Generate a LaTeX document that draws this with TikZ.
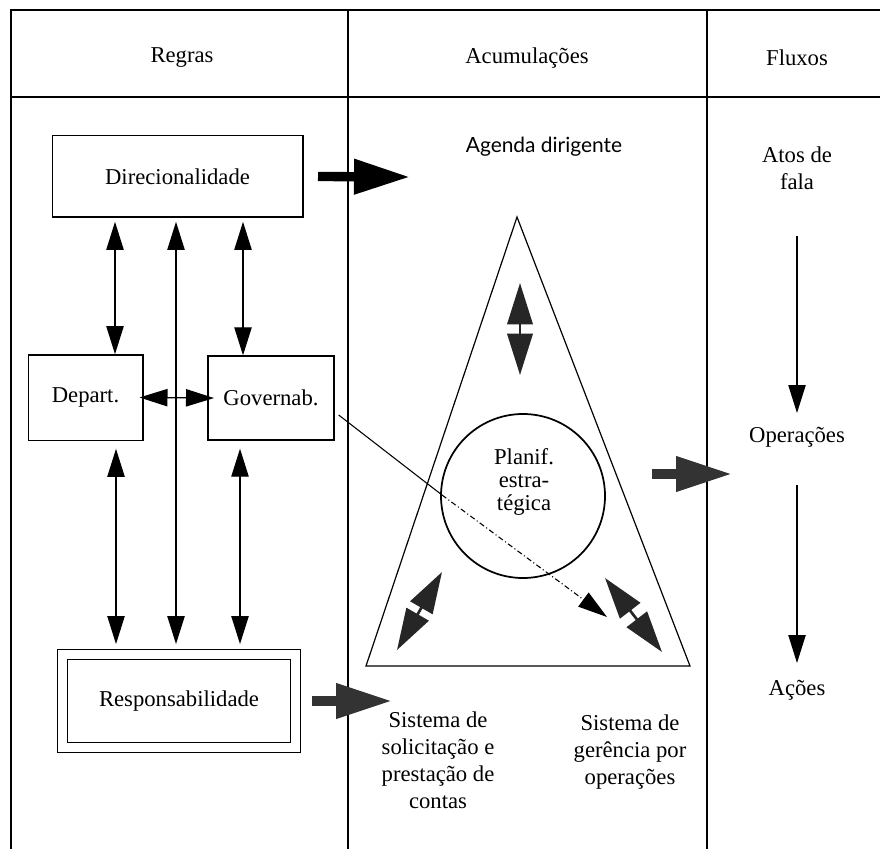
\documentclass[tikz,border=0pt]{standalone}
\usepackage{fontspec}
\setmainfont{Liberation Serif}
\newfontfamily\timesfont{Liberation Serif}
\newfontfamily\agendafont{Lato}
\usetikzlibrary{arrows.meta,calc}

\begin{document}
\begin{tikzpicture}[x=0.75pt,y=0.75pt,yscale=-1,xscale=1,
    txt/.style={font=\timesfont\fontsize{17}{20.3}\selectfont, align=center},
    boxnode/.style={draw, line width=1pt, inner sep=0pt, txt},
    thinarr/.style={line width=0.9pt, -{Triangle[length=21pt,width=13pt]}},
    dblarr/.style={line width=0.9pt, {Triangle[length=21pt,width=13pt]}-{Triangle[length=21pt,width=13pt]}},
    bigarr/.style={line width=7pt, -{Triangle[length=42pt,width=25pt]}},
    innerarr/.style={line width=2pt, black!85, {Triangle[length=31pt,width=19pt]}-{Triangle[length=31pt,width=19pt]}}]
    \useasboundingbox (0,0) rectangle (880,848);
    \clip (0,0) rectangle (880,848);

    %Frame: columns and header
    \draw [line width=1.3pt] (11,900) -- (11,10) -- (900,10) ;
    \draw [line width=1.3pt] (11,97) -- (900,97) ;
    \draw [line width=1.3pt] (348,10) -- (348,900) ;
    \draw [line width=1.3pt] (707,10) -- (707,900) ;

    % Text Node
    \draw (182,58) node [txt] (regras) {Regras};
    \draw (527,58) node [txt] (acum) {Acumulações};
    \draw (797,58) node [txt] (fluxos) {Fluxos};

    %Shape: Rectangle
    \draw (177.5,176.5) node [boxnode, minimum width=188pt, minimum height=61pt] (direc) {Direcionalidade};
    \draw (85.5,397.5) node [boxnode, minimum width=86pt, minimum height=64pt] (depart) {Depart.};
    \draw (271,398) node [boxnode, minimum width=94.5pt, minimum height=63pt] (governab) {Governab.};
    \draw (179,701) node [boxnode, double, double distance=6.5pt, minimum width=174.75pt, minimum height=69.4pt] (resp) {Responsabilidade};

    %Straight Lines
    \draw [dblarr, shorten <=3pt] (direc.south -| 115,0) -- (depart.north -| 115,0) ;
    \draw [dblarr, shorten <=3pt] (direc.south -| 243,0) -- (governab.north -| 243,0) ;
    \draw [dblarr, shorten <=3pt, shorten >=7.5pt] (direc.south -| 176,0) -- (resp.north -| 176,0) ;
    \draw [dblarr, shorten <=6pt, shorten >=7.5pt] (depart.south -| 116,0) -- (resp.north -| 116,0) ;
    \draw [dblarr, shorten <=6pt, shorten >=7.5pt] (governab.south -| 240,0) -- (resp.north -| 240,0) ;
    \draw [dblarr, shorten <=-3pt, shorten >=-5pt] (depart.east) -- (governab.west) ;

    %Thick arrows
    \coordinate (agendain) at (410,177) ;
    \coordinate (sisin) at (392,701) ;
    \coordinate (trout) at (652,474) ;
    \coordinate (operin) at (732,474) ;
    \draw [bigarr] (direc.east -| 318,0) -- (agendain) ;
    \draw [bigarr, black!80] (resp.east -| 312,0) -- (sisin) ;
    \draw [bigarr, black!80] (trout) -- (operin) ;

    % Text Node
    \draw (544,147) node [txt] (agenda) {\agendafont\fontsize{15.7}{20}\selectfont Agenda dirigente};

    %Shape: Triangle
    \draw [line width=0.9pt] (517,217) -- (366,666) -- (690,666) -- cycle ;

    %Shape: Circle
    \draw (523,496) node [circle, draw, line width=1.3pt, minimum size=123pt, inner sep=0pt] (plan) {};
    \draw (524,482) node [txt, font=\timesfont\fontsize{17}{17.5}\selectfont] (plantxt) {Planif.\\estra-\\tégica};

    %Arrows inside the triangle
    \coordinate (topa) at (520,283) ;
    \coordinate (topb) at (520,375) ;
    \coordinate (lefta) at (442,572) ;
    \coordinate (leftb) at (397,650) ;
    \coordinate (righta) at (605,578) ;
    \coordinate (rightb) at (662,652) ;
    \draw [innerarr] (topa) -- (topb) ;
    \draw [innerarr] (lefta) -- (leftb) ;
    \draw [innerarr] (righta) -- (rightb) ;

    %Line from Governab. across the circle
    \coordinate (cut) at (442,495) ;
    \coordinate (govtip) at (607,617) ;
    \draw [line width=0.8pt] ($(governab.east)+(4,17)$) -- (cut) ;
    \draw [line width=0.8pt, dash pattern=on 4pt off 2pt on 0.8pt off 2pt, -{Triangle[length=22pt,width=13pt]}] (cut) -- (govtip) ;

    % Text Node
    \draw (438,760) node [txt] (sissol) {Sistema de\\solicitação e\\prestação de\\contas};
    \draw (630,752) node [txt] (sisger) {Sistema de\\gerência por\\operações};

    % Fluxos column
    \draw (797,168) node [txt] (atos) {Atos de\\fala};
    \draw (797,437) node [txt] (oper) {Operações};
    \draw (797,690) node [txt] (acoes) {Ações};
    \draw [thinarr] (atos.south |- 0,236) -- (oper.north |- 0,413) ;
    \draw [thinarr] (oper.south |- 0,485) -- (acoes.north |- 0,663) ;

\end{tikzpicture}
\end{document}
